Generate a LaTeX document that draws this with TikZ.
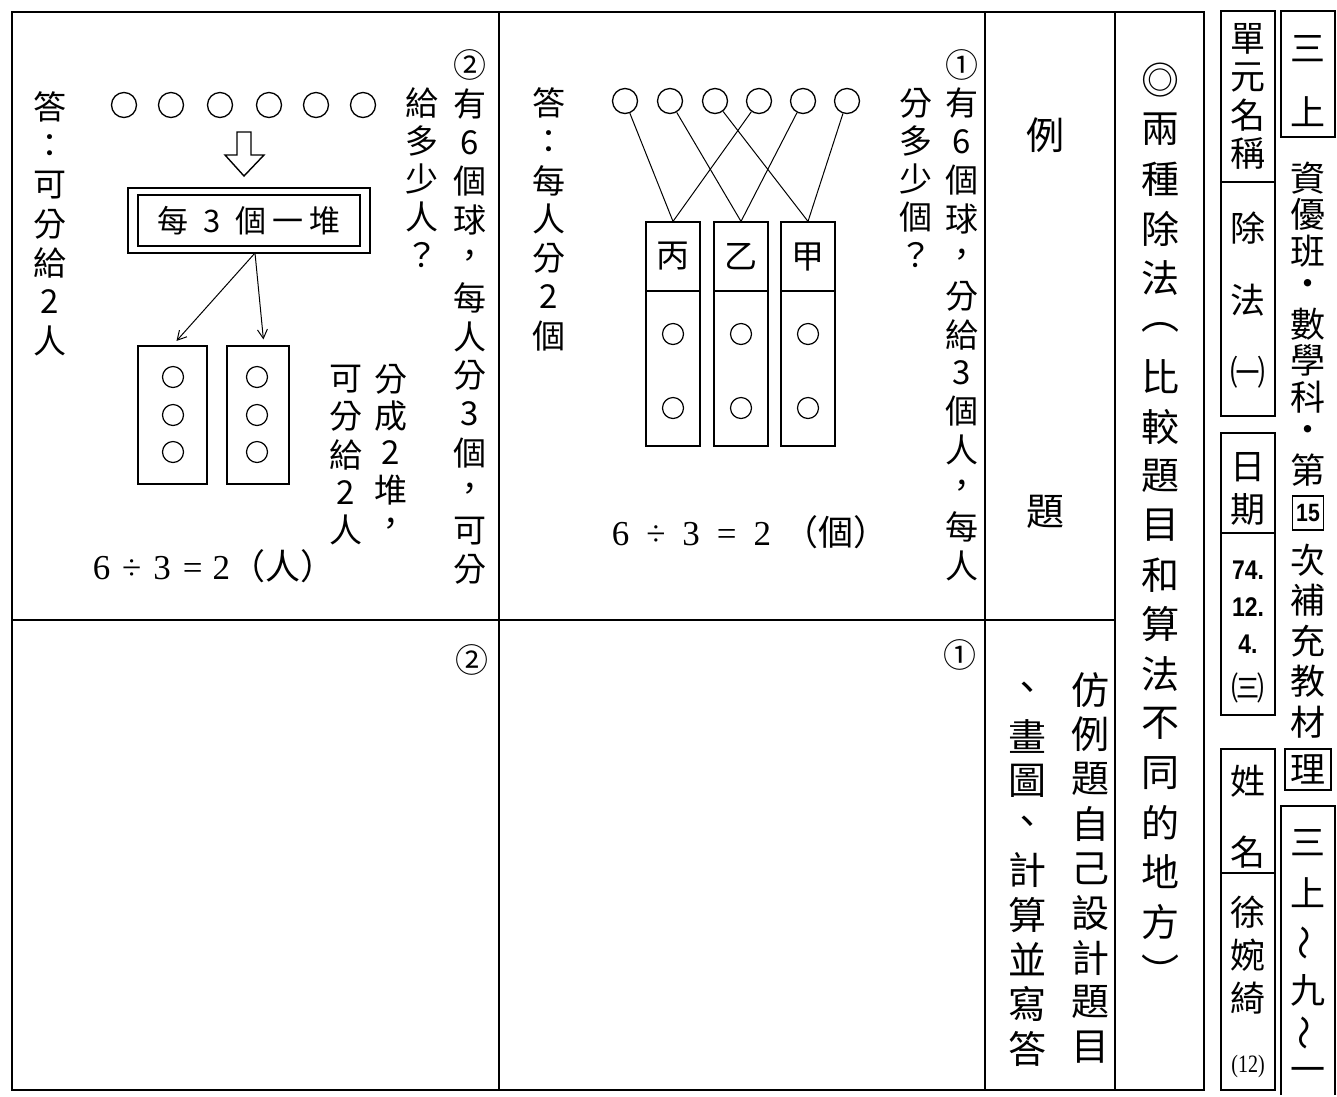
\documentclass[tikz,border=0pt]{standalone}
\usepackage{fontspec}
\usepackage{graphicx}
\setmainfont{Noto Sans CJK TC}
\newfontfamily\serifnum{Liberation Serif}
\newfontfamily\sansnum{Liberation Sans}
\usetikzlibrary{arrows.meta}

\tikzset{
  frameline/.style={line width=2pt},
  ruleline/.style={line width=1.5pt},
  boxline/.style={draw, line width=1.2pt, inner sep=0pt},
  ch/.style={inner sep=0pt, font=\fontsize{33}{33}\selectfont},
  chL/.style={inner sep=0pt, font=\fontsize{38}{38}\selectfont},
  chT/.style={inner sep=0pt, font=\fontsize{38}{38}\selectfont},
  chS/.style={inner sep=0pt, font=\fontsize{35}{35}\selectfont},
  ball/.style={draw, circle, line width=1.3pt, minimum size=25pt, inner sep=0pt},
  sball/.style={draw, circle, line width=1.2pt, minimum size=21pt, inner sep=0pt},
  eqn/.style={inner sep=0pt, font=\fontsize{35}{35}\selectfont},
  conn/.style={line width=1pt},
  arr/.style={line width=1pt, -{Straight Barb[length=9pt,width=10pt]}},
}

% name, x, y0, pitch, style, list
\newcommand{\vcol}[6]{%
  \foreach \c [count=\i] in {#6} {
    \node[#5] (#1\i) at (#2, {#3 + (\i-1)*#4}) {\c};
  }%
}

\begin{document}
\begin{tikzpicture}[x=1pt,y=-1pt]
\useasboundingbox (0,0) rectangle (1337,1096);
\fill[white] (0,0) rectangle (1337,1096);

% ---------------- main frame and rules ----------------
\draw[frameline] (12,12) rectangle (1204,1090);
\draw[ruleline] (499,12) -- (499,1090);
\draw[ruleline] (985,12) -- (985,1090);
\draw[ruleline] (1115,12) -- (1115,1090);
\draw[ruleline] (12,620) -- (1115,620);

% ---------------- title column ----------------
\vcol{ti}{1160}{80}{49.5}{chT}{◎,兩,種,除,法,︵,比,較,題,目,和,算,法,不,同,的,地,方,︶}

% ---------------- example column ----------------
\node[chL] (ex1) at (1045,135) {例};
\node[chL] (ex2) at (1045,512) {題};
\vcol{fa}{1090}{690}{44.6}{chL}{仿,例,題,自,己,設,計,題,目}
\vcol{fb}{1027}{692}{44.6}{chL}{、,畫,圖,、,計,算,並,寫,答}

% ---------------- panel 1 ----------------
\vcol{qa}{962}{65}{38.5}{ch}{①,有,6,個,球,，,分,給,3,個,人,，,每,人}
\vcol{qb}{916}{103}{38}{ch}{分,多,少,個,？}
\vcol{aa}{549}{103}{38.8}{ch}{答,：,每,人,分,2,個}

\foreach \x [count=\i] in {625,670,715,759,803,847} {
  \node[ball] (t\i) at (\x,101) {};
}
\foreach \x/\lab [count=\i] in {673/丙,741/乙,808/甲} {
  \node[boxline, minimum width=54pt, minimum height=69pt] (h\i) at (\x,256.5) {};
  \node[ch] (hl\i) at (\x,256.5) {\lab};
  \node[boxline, minimum width=54pt, minimum height=155pt] (g\i) at (\x,368.5) {};
  \node[sball] (ga\i) at (\x,334) {};
  \node[sball] (gb\i) at (\x,408) {};
}
\draw[conn] (t1) -- (h1.north);
\draw[conn] (t2) -- (h2.north);
\draw[conn] (t3) -- (h3.north);
\draw[conn] (t4) -- (h1.north);
\draw[conn] (t5) -- (h2.north);
\draw[conn] (t6) -- (h3.north);

\node[eqn] (eq1) at (750,532) {{\serifnum 6\hspace{17pt}÷\hspace{17pt}3\hspace{17pt}=\hspace{17pt}2}\hspace{12pt}（個）};

\node[ch] (n1) at (960,655) {①};

% ---------------- panel 2 ----------------
\vcol{pa}{470}{65}{38.8}{ch}{②,有,6,個,球,，,每,人,分,3,個,，,可,分}
\vcol{pb}{422}{103}{38}{ch}{給,多,少,人,？}
\vcol{ab}{50}{107}{39}{ch}{答,：,可,分,給,2,人}

\foreach \x [count=\i] in {124,171,220,269,316,363} {
  \node[ball] (s\i) at (\x,105) {};
}
\draw[line width=1.4pt] (237,132) -- (251,132) -- (251,155) -- (264,155) -- (244,176) -- (225,155) -- (237,155) -- cycle;

\node[boxline, minimum width=242pt, minimum height=65pt] (pileO) at (249,220.5) {};
\node[boxline, minimum width=222pt, minimum height=51pt, font=\fontsize{31}{31}\selectfont] (pileI) at (249,220.5)
  {每\hspace{15pt}3\hspace{15pt}個\hspace{6pt}一\hspace{6pt}堆};

\node[boxline, minimum width=69pt, minimum height=138pt] (kL) at (172.5,415) {};
\node[boxline, minimum width=62pt, minimum height=138pt] (kR) at (258,415) {};
\foreach \y [count=\i] in {377,415,452} {
  \node[sball] (kl\i) at (173,\y) {};
  \node[sball] (kr\i) at (257,\y) {};
}
\coordinate (pileS) at (255,253);
\draw[arr, shorten >=6pt] (pileS) -- (kL.north);
\draw[arr, shorten >=6pt] (pileS) -- ([xshift=6pt]kR.north);

\vcol{sa}{391}{379}{37}{ch}{分,成,2,堆,，}
\vcol{sb}{346}{379}{37.8}{ch}{可,分,給,2,人}

\node[eqn] (eq2) at (214,566) {{\serifnum 6\hspace{12pt}÷\hspace{12pt}3\hspace{12pt}=\hspace{10pt}2}（人）};

\node[ch] (n2) at (472,660) {②};

% ---------------- right strip: inner boxes ----------------
\node[boxline, minimum width=54pt, minimum height=171pt] (bA1) at (1248,96.5) {};
\node[boxline, minimum width=54pt, minimum height=234pt] (bA2) at (1248,299) {};
\vcol{ua}{1248}{39}{38.3}{chS}{單,元,名,稱}
\vcol{ub}{1248}{228}{72}{chS}{除,法,㈠}

\node[boxline, minimum width=54pt, minimum height=100pt] (bB1) at (1248,483) {};
\node[boxline, minimum width=54pt, minimum height=182pt] (bB2) at (1248,624) {};
\node[chS] (ri) at (1248,467) {日};
\node[chS] (qi) at (1248,509) {期};
\foreach \t/\y [count=\i] in {74./570,12./607,4./644} {
  \node[inner sep=0pt, font=\sansnum\bfseries\fontsize{27}{27}\selectfont] (dt\i) at (1248,\y) {\scalebox{0.85}[1]{\t}};
}
\node[ch] (dt4) at (1248,688) {㈢};

\node[boxline, minimum width=54pt, minimum height=124pt] (bC1) at (1248,811) {};
\node[boxline, minimum width=54pt, minimum height=217pt] (bC2) at (1248,981.5) {};
\node[chS] (xi) at (1248,781) {姓};
\node[chS] (mi) at (1248,852) {名};
\vcol{nm}{1248}{912}{43}{chS}{徐,婉,綺}
\node[inner sep=0pt, font=\serifnum\fontsize{25}{25}\selectfont] (no) at (1248,1066) {\scalebox{0.8}[1]{(12)}};

% ---------------- right strip: outer column ----------------
\node[boxline, minimum width=54pt, minimum height=126pt] (r1) at (1308,74) {};
\node[chS] (r1a) at (1308,49) {三};
\node[chS] (r1b) at (1308,112) {上};
\vcol{rs}{1308}{178}{36.5}{chS}{資,優,班,・,數,學,科,・,第}
\node[boxline, minimum width=31pt, minimum height=34pt, font=\sansnum\bfseries\fontsize{25}{25}\selectfont] (r15) at (1308,513) {\scalebox{0.85}[1]{15}};
\vcol{rt}{1308}{560}{40.5}{chS}{次,補,充,教,材}
\node[boxline, minimum width=46pt, minimum height=41pt, font=\fontsize{35}{35}\selectfont] (rli) at (1308,769.5) {理};
\draw[line width=1.2pt] (1281,1095) -- (1281,806) -- (1335,806) -- (1335,1095);
\node[chS] (g1) at (1308,843) {三};
\node[chS] (g2) at (1308,893) {上};
\node[chS, rotate=90] (g3) at (1308,943) {～};
\node[chS] (g4) at (1308,990) {九};
\node[chS, rotate=90] (g5) at (1308,1033) {～};
\node[chS] (g6) at (1308,1075) {一};
\end{tikzpicture}
\end{document}
